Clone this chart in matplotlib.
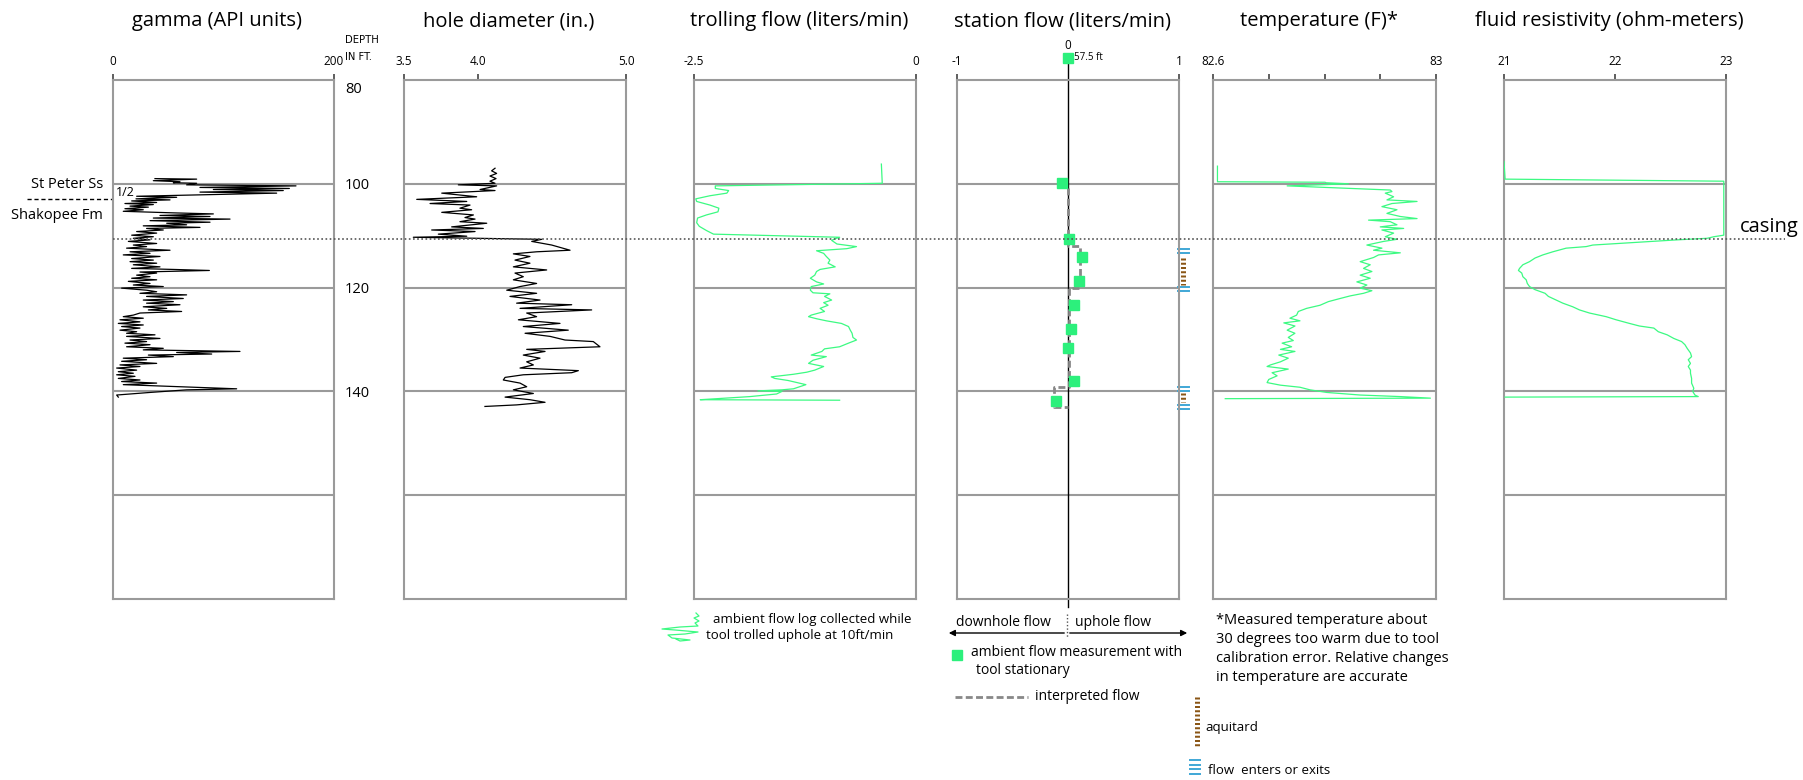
import matplotlib
matplotlib.use("Agg")
import matplotlib.pyplot as plt
from matplotlib.lines import Line2D
from matplotlib.patches import FancyArrowPatch
from matplotlib.transforms import blended_transform_factory as blend

plt.rcParams["font.family"] = ["Open Sans", "DejaVu Sans"]

# ---- log data (depth in ft) ----
gamma_depth = [99.0, 99.1, 99.4, 99.6, 99.8, 99.9, 100.2, 100.4, 100.7, 100.9, 101.1, 101.3, 101.6, 101.8,
               102.2, 102.4, 102.6, 102.9, 103.1, 103.3, 103.6, 103.8, 104.0, 104.3, 104.5, 104.8, 105.0,
               105.3, 105.6, 105.8, 106.1, 106.3, 106.6, 106.8, 107.1, 107.4, 107.6, 107.9, 108.1, 108.4,
               108.6, 108.9, 109.2, 109.5, 109.9, 110.2, 110.5, 110.8, 111.1, 111.5, 111.8, 112.1, 112.4,
               112.8, 113.1, 113.4, 113.7, 114.0, 114.4, 114.7, 115.0, 115.3, 115.6, 116.0, 116.3, 116.5,
               116.7, 117.0, 117.2, 117.6, 117.9, 118.2, 118.5, 118.8, 119.2, 119.5, 119.8, 120.1, 120.5,
               120.8, 121.1, 121.4, 121.7, 122.1, 122.4, 122.7, 123.0, 123.3, 123.7, 124.0, 124.3, 124.6,
               124.9, 125.3, 125.6, 125.9, 126.2, 126.6, 126.9, 127.2, 127.5, 127.8, 128.2, 128.5, 128.8,
               129.1, 129.4, 129.8, 130.1, 130.4, 130.7, 131.0, 131.4, 131.7, 132.0, 132.3, 132.5, 132.8,
               133.0, 133.3, 133.6, 133.9, 134.2, 134.6, 134.9, 135.2, 135.5, 135.9, 136.2, 136.5, 136.8,
               137.1, 137.5, 137.8, 138.1, 138.4, 138.7, 139.1, 139.5, 139.7, 140.2, 140.7, 141.1]
gamma_api = [38.0, 75.7, 36.5, 60.6, 54.6, 75.7, 66.6, 165.6, 78.7, 159.6, 90.8, 154.1, 78.7, 148.1,
             60.6, 21.4, 57.6, 20.8, 51.6, 16.9, 39.5, 10.8, 36.5, 15.4, 32.0, 10.8, 27.4,
             9.3, 54.6, 90.8, 42.5, 87.8, 36.5, 105.9, 33.5, 87.8, 48.6, 66.6, 27.4, 78.7,
             30.4, 45.5, 21.4, 39.5, 16.9, 36.5, 18.4, 33.5, 13.9, 39.5, 18.4, 30.4, 12.3,
             51.6, 15.4, 33.5, 9.3, 42.5, 16.9, 36.5, 15.4, 39.5, 18.4, 42.5, 16.9, 54.6,
             87.2, 24.4, 39.5, 21.4, 33.5, 16.9, 39.5, 13.9, 33.5, 18.4, 45.5, 7.8, 30.4,
             39.5, 24.4, 66.6, 30.4, 63.6, 27.4, 54.6, 30.4, 60.6, 27.4, 48.6, 32.0, 62.1,
             24.4, 18.4, 9.3, 27.4, 6.3, 24.4, 4.8, 27.4, 7.8, 24.4, 6.3, 21.4, 12.3,
             38.0, 12.3, 42.5, 15.4, 30.4, 10.8, 33.5, 12.3, 45.5, 27.4, 114.9, 57.6, 89.3,
             32.0, 54.6, 9.3, 30.4, 7.8, 39.5, 6.3, 24.4, 3.3, 21.4, 4.8, 18.4, 3.3,
             19.9, 4.8, 24.4, 7.8, 39.5, 9.3, 60.6, 111.9, 66.6, 33.5, 3.3, 4.8]

caliper_depth = [97.0, 97.5, 98.0, 98.5, 99.0, 99.5, 99.9, 100.2, 100.4, 101.1, 101.3, 101.8, 102.5, 103.0,
                 103.4, 103.8, 104.1, 104.7, 105.0, 105.5, 106.0, 106.5, 106.8, 107.3, 107.6, 108.3, 108.6,
                 108.9, 109.2, 109.7, 110.1, 110.3, 110.7, 111.1, 111.8, 112.8, 113.1, 113.5, 114.0, 114.7,
                 115.3, 116.0, 116.6, 117.2, 117.9, 118.5, 119.2, 119.8, 120.5, 121.1, 121.7, 122.4, 123.0,
                 123.3, 124.0, 124.3, 124.9, 125.6, 126.2, 126.9, 127.5, 128.2, 128.8, 129.4, 130.1, 130.4,
                 131.4, 131.9, 132.3, 133.0, 133.6, 134.3, 134.9, 135.5, 136.0, 136.4, 136.8, 137.3, 137.8,
                 138.4, 139.1, 139.7, 140.4, 141.1, 141.6, 142.1, 142.6, 142.9]
caliper_in = [4.115, 4.092, 4.126, 4.081, 4.122, 4.081, 4.115, 3.867, 4.126, 4.014, 4.115, 3.755, 3.991, 3.586,
              3.924, 3.676, 3.946, 3.878, 3.957, 3.755, 3.969, 3.912, 3.980, 3.878, 4.059, 3.822, 4.036,
              3.687, 3.980, 3.732, 3.924, 3.563, 4.430, 4.363, 4.498, 4.622, 4.396, 4.239, 4.351, 4.250,
              4.351, 4.239, 4.464, 4.250, 4.306, 4.239, 4.396, 4.284, 4.194, 4.396, 4.216, 4.419, 4.261,
              4.633, 4.284, 4.768, 4.329, 4.396, 4.273, 4.554, 4.306, 4.610, 4.318, 4.487, 4.588, 4.779,
              4.824, 4.329, 4.453, 4.306, 4.419, 4.329, 4.374, 4.284, 4.678, 4.633, 4.306, 4.183, 4.171,
              4.284, 4.329, 4.239, 4.374, 4.183, 4.351, 4.453, 4.261, 4.047]

troll_depth = [96.2, 99.9, 100.4, 100.9, 101.3, 101.8, 102.3, 102.9, 103.4, 104.1, 104.7, 105.4, 106.0,
               106.6, 107.5, 108.2, 109.0, 109.7, 110.3, 110.6, 110.9, 111.6, 112.1, 112.5, 112.9, 113.4,
               114.0, 114.7, 115.3, 116.0, 116.5, 116.9, 117.6, 118.2, 118.9, 119.3, 119.8, 120.5, 121.0,
               121.2, 121.7, 122.4, 122.9, 123.4, 124.0, 124.6, 125.3, 125.6, 126.0, 126.4, 126.9, 127.5,
               128.2, 128.8, 129.6, 130.1, 130.7, 131.4, 131.8, 132.3, 133.0, 133.3, 134.0, 134.6, 135.2,
               135.9, 136.3, 136.7, 137.2, 137.5, 137.9, 138.3, 138.7, 139.1, 139.5, 139.7, 139.9, 140.0,
               140.5, 141.0, 141.4, 141.6, 141.7]
troll_flow = [-0.39, -0.38, -2.26, -2.26, -2.11, -2.13, -2.32, -2.48, -2.47, -2.32, -2.22, -2.23, -2.36,
              -2.46, -2.47, -2.44, -2.36, -2.28, -0.86, -0.91, -0.95, -0.89, -0.67, -0.78, -1.12, -1.04,
              -1.01, -0.97, -0.99, -0.91, -1.08, -1.12, -1.14, -1.19, -1.12, -1.04, -1.18, -1.19, -1.16,
              -0.97, -1.03, -0.95, -1.04, -0.99, -1.08, -1.03, -1.18, -1.21, -1.12, -1.01, -0.84, -0.76,
              -0.74, -0.72, -0.71, -0.67, -0.76, -0.86, -1.03, -1.06, -1.18, -1.01, -1.16, -1.21, -1.04,
              -1.14, -1.23, -1.38, -1.63, -1.59, -1.44, -1.34, -1.24, -1.31, -1.38, -1.51, -1.78, -1.51,
              -1.57, -1.87, -2.24, -2.43, -0.86]

station_depth = [99.8, 110.7, 114.2, 118.7, 123.4, 128.0, 131.6, 137.9, 141.8]
station_flow = [-0.05, 0.01, 0.13, 0.10, 0.05, 0.03, 0.00, 0.05, -0.11]
top_station_depth = 57.5
top_station_flow = 0.0

interp_depth = [100.9, 112.0, 112.0, 120.1, 120.1, 139.1, 139.1, 143.0, 143.0]
interp_flow = [0.0, 0.0, 0.11, 0.11, 0.01, 0.01, -0.13, -0.13, 0.0]

flow_zone_depths = [113.0, 120.3, 139.5, 143.0]
aquitard_zones = [(114.3, 119.5), (140.3, 142.0)]

temp_depth = [96.6, 99.6, 99.7, 99.8, 100.0, 100.4, 101.2, 101.5, 101.8, 102.5, 103.1, 103.4, 103.8,
              104.4, 105.0, 105.7, 106.3, 106.7, 107.0, 107.3, 107.9, 108.3, 108.6, 108.9, 109.5, 110.2,
              110.7, 111.1, 111.8, 112.4, 112.8, 113.3, 113.7, 114.2, 115.0, 115.6, 116.3, 116.9, 117.6,
              118.2, 118.9, 119.5, 120.1, 120.6, 121.1, 121.6, 122.1, 122.7, 123.4, 124.0, 124.6, 125.3,
              125.9, 126.4, 126.8, 127.4, 128.2, 128.8, 129.6, 130.2, 130.7, 131.4, 131.9, 132.3, 133.0,
              133.6, 134.3, 134.9, 135.2, 135.7, 136.4, 137.0, 137.7, 138.3, 138.8, 139.2, 139.7, 140.2,
              140.7, 141.0, 141.3, 141.4]
temp_f = [82.608, 82.608, 82.801, 82.803, 82.843, 82.733, 82.918, 82.921, 82.909, 82.924, 82.912, 82.966, 82.921,
          82.903, 82.930, 82.912, 82.936, 82.966, 82.879, 82.918, 82.930, 82.900, 82.942, 82.903, 82.924, 82.909,
          82.930, 82.906, 82.876, 82.903, 82.888, 82.936, 82.897, 82.888, 82.864, 82.882, 82.870, 82.885, 82.864,
          82.882, 82.858, 82.876, 82.864, 82.885, 82.870, 82.846, 82.828, 82.807, 82.792, 82.768, 82.753, 82.750,
          82.738, 82.756, 82.727, 82.747, 82.733, 82.747, 82.735, 82.744, 82.724, 82.741, 82.721, 82.747, 82.718,
          82.735, 82.721, 82.703, 82.697, 82.735, 82.706, 82.715, 82.700, 82.697, 82.721, 82.756, 82.774, 82.804,
          82.864, 82.936, 82.990, 82.622]

resist_depth = [95.7, 99.1, 99.5, 109.9, 110.2, 110.5, 110.8, 111.8, 112.1, 112.4, 113.1, 113.7, 114.3,
                115.0, 115.6, 116.3, 116.7, 117.2, 117.9, 118.5, 119.2, 119.8, 120.4, 121.1, 121.7, 122.4,
                123.0, 123.7, 124.3, 124.9, 125.6, 126.2, 126.9, 127.4, 127.8, 128.5, 129.1, 129.8, 130.4,
                131.0, 131.7, 132.6, 133.3, 133.9, 134.6, 135.2, 135.9, 136.5, 137.5, 138.4, 139.4, 140.0,
                140.7, 141.0, 141.1]
resist_ohm = [21.00, 21.01, 22.98, 22.98, 22.89, 22.83, 22.56, 21.80, 21.74, 21.56, 21.44, 21.35, 21.28,
              21.23, 21.17, 21.14, 21.13, 21.16, 21.17, 21.20, 21.21, 21.23, 21.28, 21.37, 21.40, 21.47,
              21.53, 21.62, 21.68, 21.77, 21.92, 22.01, 22.13, 22.22, 22.35, 22.39, 22.47, 22.53, 22.60,
              22.63, 22.65, 22.68, 22.69, 22.66, 22.68, 22.66, 22.68, 22.68, 22.69, 22.69, 22.71, 22.70,
              22.72, 22.75, 21.01]

grid_depths = [100, 120, 140, 160]
depth_labels = [80, 100, 120, 140]
casing_depth = 110.6
contact_depth = 102.9

titles = ["gamma (API units)", "hole diameter (in.)", "trolling flow (liters/min)",
          "station flow (liters/min)", "temperature (F)*", "fluid resistivity (ohm-meters)"]
xlims = [(0, 200), (3.5, 5.0), (-2.5, 0), (-1, 1), (82.6, 83.0), (21, 23)]
xticks = [[0, 200], [3.5, 4.0, 5.0], [-2.5, 0], [-1, 1], [82.6, 82.7, 82.8, 82.9, 83.0], [21, 22, 23]]
xticklabels = [["0", "200"], ["3.5", "4.0", "5.0"], ["-2.5", "0"], ["-1", "1"],
               ["82.6", "", "", "", "83"], ["21", "22", "23"]]

# ---- layout (pixels) ----
FIG_W, FIG_H = 1803, 780
PANEL_X = [(113, 334), (404, 626), (694, 916), (957, 1179), (1213, 1436), (1504, 1726)]
PANEL_TOP, PANEL_BOTTOM = 80, 599
FRAME = "#9a9a9a"
GREEN = "#3cfa82"
SQ_GREEN = "#2cf07c"
BLUE = "#3fa7d6"
BROWN = "#8a5616"


def fxy(x, y):
    return x / FIG_W, 1 - y / FIG_H


fig = plt.figure(figsize=(FIG_W / 100, FIG_H / 100), dpi=100)
axes = []
for i, (x0, x1) in enumerate(PANEL_X):
    ax = fig.add_axes([x0 / FIG_W, 1 - PANEL_BOTTOM / FIG_H,
                       (x1 - x0) / FIG_W, (PANEL_BOTTOM - PANEL_TOP) / FIG_H])
    ax.set_xlim(*xlims[i])
    ax.set_ylim(180, 80)
    for s in ax.spines.values():
        s.set_color(FRAME)
        s.set_linewidth(1.5)
    ax.xaxis.tick_top()
    ax.set_xticks(xticks[i])
    ax.set_xticklabels(xticklabels[i])
    ax.tick_params(axis="x", length=4.5, width=1.1, color="#333333", pad=4, labelsize=8.5)
    ax.set_yticks([])
    for d in grid_depths:
        ax.axhline(d, color=FRAME, lw=1.5, zorder=1)
    cx = (x0 + x1) / 2 - 6
    fig.text(*fxy(cx, 21), titles[i], ha="center", va="center", fontsize=14.5)
    axes.append(ax)

ax_g, ax_c, ax_t, ax_s, ax_temp, ax_r = axes

ax_g.plot(gamma_api, gamma_depth, color="black", lw=0.9, zorder=3)
ax_c.plot(caliper_in, caliper_depth, color="black", lw=0.9, zorder=3)
ax_t.plot(troll_flow, troll_depth, color=GREEN, lw=0.9, zorder=3)
ax_temp.plot(temp_f, temp_depth, color=GREEN, lw=0.9, zorder=3)
ax_r.plot(resist_ohm, resist_depth, color=GREEN, lw=0.9, zorder=3)

# station flow panel
xdata_yaxes = blend(ax_s.transData, ax_s.transAxes)
yaxes_ydata = ax_s.get_yaxis_transform()
ax_s.plot([0, 0], [-0.016, 1.035], color="black", lw=1, transform=xdata_yaxes, clip_on=False, zorder=2)
ax_s.plot(interp_flow, interp_depth, color="#888888", lw=2, ls=(0, (2.5, 1.2)), zorder=3)
ax_s.plot(station_flow, station_depth, ls="none", marker="s", ms=7, color=SQ_GREEN, zorder=4)
ax_s.plot([top_station_flow], [1.043], ls="none", marker="s", ms=7, color=SQ_GREEN,
          transform=xdata_yaxes, clip_on=False)
ax_s.text(top_station_flow + 0.05, 1.043, f"{top_station_depth} ft", transform=xdata_yaxes,
          fontsize=7, ha="left", va="center")
ax_s.text(0, 1.066, "0", transform=xdata_yaxes, fontsize=8.5, ha="center", va="center")
for d in flow_zone_depths:
    for off in (-0.4, 0.4):
        ax_s.plot([0.995, 1.045], [d + off, d + off], color=BLUE, lw=1.4,
                  transform=yaxes_ydata, clip_on=False)
for top, bot in aquitard_zones:
    ax_s.plot([1.02, 1.02], [top, bot], color=BROWN, lw=3.6, ls=(0, (0.4, 0.45)),
              transform=yaxes_ydata, clip_on=False)

# depth scale and formations beside the gamma log
gy = ax_g.get_yaxis_transform()
for d in depth_labels:
    if d == 80:
        ax_g.text(1.05, d + 0.3, str(d), transform=gy, fontsize=10.5, ha="left", va="top")
    else:
        ax_g.text(1.05, d + 0.4, str(d), transform=gy, fontsize=10.5, ha="left", va="center")
fig.text(*fxy(345, 40), "DEPTH", fontsize=8, family="DejaVu Sans", fontstretch="condensed",
         ha="left", va="center")
fig.text(*fxy(345, 57), "IN FT.", fontsize=8, family="DejaVu Sans", fontstretch="condensed",
         ha="left", va="center")
ax_g.text(-0.045, 100.1, "St Peter Ss", transform=gy, fontsize=10.5, ha="right", va="center")
ax_g.text(-0.045, 106.1, "Shakopee Fm", transform=gy, fontsize=10.5, ha="right", va="center")
ax_g.plot([-0.39, 0], [contact_depth, contact_depth], color="black", lw=1, ls=(0, (3, 2)),
          transform=gy, clip_on=False)
ax_g.text(0.015, 101.7, "1/2", transform=gy, fontsize=9, ha="left", va="center")

# casing depth across all logs
casing_tr = blend(fig.transFigure, ax_g.transData)
fig.add_artist(Line2D([113 / FIG_W, 1785 / FIG_W], [casing_depth, casing_depth], transform=casing_tr,
                      color="#555555", lw=1.2, ls=(0, (1, 1.5)), zorder=5))
fig.text(1740 / FIG_W, 1 - 227 / FIG_H, "casing", fontsize=14.5, ha="left", va="center")

# legends under the panels
icon = [(696, 613), (699, 616), (694, 618), (699, 621), (695, 623), (698, 626), (680, 627), (662, 629),
        (675, 630), (698, 632), (685, 634), (668, 635), (672, 638), (690, 640), (680, 641), (676, 639)]
fig.add_artist(Line2D([fxy(x, y)[0] for x, y in icon], [fxy(x, y)[1] for x, y in icon],
                      transform=fig.transFigure, color=GREEN, lw=0.9))
fig.text(*fxy(713, 619), "ambient flow log collected while", fontsize=9.5, va="center")
fig.text(*fxy(706, 636), "tool trolled uphole at 10ft/min", fontsize=9.5, va="center")

fig.text(*fxy(1003, 623), "downhole flow", fontsize=10, ha="center", va="center")
fig.text(*fxy(1075, 623), "uphole flow", fontsize=10, ha="left", va="center")
for x_end in (946, 1190):
    fig.add_artist(FancyArrowPatch(fxy(1067, 633), fxy(x_end, 633), transform=fig.transFigure,
                                   arrowstyle="-|>", mutation_scale=9, color="black", lw=1))
fig.add_artist(Line2D([1067 / FIG_W] * 2, [fxy(0, 614)[1], fxy(0, 638)[1]], transform=fig.transFigure,
                      color="#555555", lw=1, ls=(0, (1, 1.5))))
fig.add_artist(Line2D([957 / FIG_W], [fxy(0, 655)[1]], transform=fig.transFigure, ls="none",
                      marker="s", ms=7, color=SQ_GREEN))
fig.text(*fxy(971, 652), "ambient flow measurement with", fontsize=10, va="center")
fig.text(*fxy(976, 670), "tool stationary", fontsize=10, va="center")
fig.add_artist(Line2D([955 / FIG_W, 1028 / FIG_W], [fxy(0, 697)[1]] * 2, transform=fig.transFigure,
                      color="#888888", lw=2, ls=(0, (2.5, 1.2))))
fig.text(*fxy(1035, 697), "interpreted flow", fontsize=10, va="center")

note = ["*Measured temperature about", "30 degrees too warm due to tool",
        "calibration error. Relative changes", "in temperature are accurate"]
for k, line in enumerate(note):
    fig.text(*fxy(1216, 621 + 18.7 * k), line, fontsize=10.5, va="center")

fig.add_artist(Line2D([1197 / FIG_W] * 2, [fxy(0, 697)[1], fxy(0, 748)[1]], transform=fig.transFigure,
                      color=BROWN, lw=3.6, ls=(0, (0.4, 0.45))))
fig.text(*fxy(1205, 728), "aquitard", fontsize=9.5, va="center")
for y in (760, 764.5, 769, 773.5):
    fig.add_artist(Line2D([1190 / FIG_W, 1200 / FIG_W], [fxy(0, y)[1]] * 2, transform=fig.transFigure,
                          color=BLUE, lw=1.4))
fig.text(*fxy(1208, 771), "flow  enters or exits", fontsize=9.5, va="center")

fig.savefig("out.png", dpi=100)
